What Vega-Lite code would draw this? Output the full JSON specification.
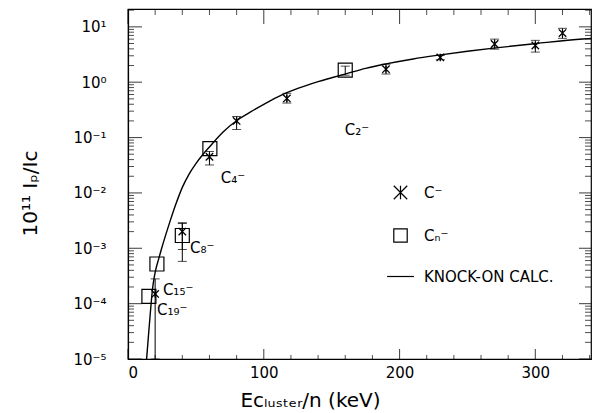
{
  "$schema": "https://vega.github.io/schema/vega-lite/v6.json",
  "autosize": {"type": "none"},
  "width": 463,
  "height": 350,
  "padding": {"left": 128, "top": 9, "right": 4, "bottom": 54},
  "background": "white",
  "config": {
    "view": {"stroke": "black", "strokeWidth": 1.2},
    "font": "DejaVu Sans",
    "axis": {"grid": false, "ticks": false, "domainColor": "black", "labelColor": "black", "titleColor": "black", "labelFont": "DejaVu Sans", "titleFont": "DejaVu Sans", "titleFontWeight": "normal", "domainWidth": 1.2}
  },
  "datasets": {
    "curve": [
      {"e": 13.7, "v": 0.00001}, {"e": 15, "v": 0.0000251}, {"e": 16.5, "v": 0.0000708},
      {"e": 18, "v": 0.000178}, {"e": 19.5, "v": 0.000316}, {"e": 21, "v": 0.000468},
      {"e": 22.5, "v": 0.000631}, {"e": 24.8, "v": 0.001}, {"e": 28, "v": 0.00182},
      {"e": 31, "v": 0.00309}, {"e": 35, "v": 0.00603}, {"e": 40, "v": 0.0126},
      {"e": 45, "v": 0.0219}, {"e": 50, "v": 0.0339}, {"e": 55, "v": 0.049},
      {"e": 60, "v": 0.0676}, {"e": 70, "v": 0.126}, {"e": 82, "v": 0.219},
      {"e": 90, "v": 0.288}, {"e": 100, "v": 0.398}, {"e": 110, "v": 0.537},
      {"e": 117, "v": 0.646}, {"e": 130, "v": 0.851}, {"e": 140, "v": 1.023},
      {"e": 150, "v": 1.202}, {"e": 161, "v": 1.429}, {"e": 175, "v": 1.778},
      {"e": 190, "v": 2.138}, {"e": 210, "v": 2.63}, {"e": 229, "v": 3.09},
      {"e": 250, "v": 3.63}, {"e": 271, "v": 4.17}, {"e": 301, "v": 5.01},
      {"e": 335, "v": 6.03}, {"e": 341, "v": 6.17}
    ],
    "pts": [
      {"s": "C⁻", "e": 20, "v": 0.00015},
      {"s": "C⁻", "e": 40, "v": 0.002},
      {"s": "C⁻", "e": 60, "v": 0.045},
      {"s": "C⁻", "e": 80, "v": 0.2},
      {"s": "C⁻", "e": 117, "v": 0.51},
      {"s": "C⁻", "e": 190, "v": 1.72},
      {"s": "C⁻", "e": 230, "v": 2.8},
      {"s": "C⁻", "e": 270, "v": 4.9},
      {"s": "C⁻", "e": 300, "v": 4.6},
      {"s": "C⁻", "e": 320, "v": 7.7}
    ],
    "bars": [
      {"e": 20, "lo": 0.00001, "hi": 0.00028},
      {"e": 40, "lo": 0.00095, "hi": 0.0028},
      {"e": 60, "lo": 0.032, "hi": 0.056},
      {"e": 80, "lo": 0.14, "hi": 0.24},
      {"e": 117, "lo": 0.42, "hi": 0.63},
      {"e": 190, "lo": 1.4, "hi": 2.1},
      {"e": 230, "lo": 2.55, "hi": 3.05},
      {"e": 270, "lo": 3.95, "hi": 6.0},
      {"e": 300, "lo": 3.5, "hi": 5.7},
      {"e": 320, "lo": 6.2, "hi": 9.4},
      {"e": 40, "lo": 0.00058, "hi": 0.0029},
      {"e": 160, "lo": 1.34, "hi": 1.95}
    ],
    "boxes": [
      {"s": "Cₙ⁻", "e": 15.4, "v": 0.000135},
      {"s": "Cₙ⁻", "e": 21.3, "v": 0.00052},
      {"s": "Cₙ⁻", "e": 40, "v": 0.0017},
      {"s": "Cₙ⁻", "e": 60.3, "v": 0.063},
      {"s": "Cₙ⁻", "e": 160, "v": 1.65}
    ],
    "notes": [
      {"t": "C₄⁻", "e": 68.4, "v": 0.0184},
      {"t": "C₂⁻", "e": 159.6, "v": 0.135},
      {"t": "C₈⁻", "e": 45.6, "v": 0.001},
      {"t": "C₁₅⁻", "e": 25.7, "v": 0.000174},
      {"t": "C₁₉⁻", "e": 21.3, "v": 0.000076}
    ],
    "xmajor": [{"e": 0}, {"e": 100}, {"e": 200}, {"e": 300}],
    "xminor": [{"e": 20}, {"e": 40}, {"e": 60}, {"e": 80}, {"e": 120}, {"e": 140}, {"e": 160}, {"e": 180}, {"e": 220}, {"e": 240}, {"e": 260}, {"e": 280}, {"e": 320}, {"e": 340}],
    "ymajor": [{"v": 0.00001}, {"v": 0.0001}, {"v": 0.001}, {"v": 0.01}, {"v": 0.1}, {"v": 1}, {"v": 10}],
    "yminor": [
      {"v": 0.00002}, {"v": 0.00003}, {"v": 0.00004}, {"v": 0.00005}, {"v": 0.00006}, {"v": 0.00007}, {"v": 0.00008}, {"v": 0.00009},
      {"v": 0.0002}, {"v": 0.0003}, {"v": 0.0004}, {"v": 0.0005}, {"v": 0.0006}, {"v": 0.0007}, {"v": 0.0008}, {"v": 0.0009},
      {"v": 0.002}, {"v": 0.003}, {"v": 0.004}, {"v": 0.005}, {"v": 0.006}, {"v": 0.007}, {"v": 0.008}, {"v": 0.009},
      {"v": 0.02}, {"v": 0.03}, {"v": 0.04}, {"v": 0.05}, {"v": 0.06}, {"v": 0.07}, {"v": 0.08}, {"v": 0.09},
      {"v": 0.2}, {"v": 0.3}, {"v": 0.4}, {"v": 0.5}, {"v": 0.6}, {"v": 0.7}, {"v": 0.8}, {"v": 0.9},
      {"v": 2}, {"v": 3}, {"v": 4}, {"v": 5}, {"v": 6}, {"v": 7}, {"v": 8}, {"v": 9}, {"v": 20}
    ],
    "anchor": [{"e": 0, "v": 1}]
  },
  "layer": [
    {
      "data": {"name": "curve"},
      "mark": {"type": "line", "color": "black", "strokeWidth": 1.4, "interpolate": "monotone", "clip": true},
      "encoding": {
        "x": {"field": "e", "type": "quantitative", "scale": {"domain": [0, 341], "nice": false, "zero": false}, "axis": null},
        "y": {"field": "v", "type": "quantitative", "scale": {"type": "log", "domain": [0.00001, 21], "nice": false}, "axis": null}
      }
    },
    {
      "data": {"name": "bars"},
      "mark": {"type": "rule", "color": "black", "strokeWidth": 1, "clip": true},
      "encoding": {
        "x": {"field": "e", "type": "quantitative", "axis": null},
        "y": {"field": "lo", "type": "quantitative", "axis": null},
        "y2": {"field": "hi"}
      }
    },
    {
      "data": {"name": "bars"},
      "mark": {"type": "tick", "orient": "horizontal", "color": "black", "size": 9, "thickness": 1, "clip": true},
      "encoding": {
        "x": {"field": "e", "type": "quantitative", "axis": null},
        "y": {"field": "hi", "type": "quantitative", "axis": null}
      }
    },
    {
      "data": {"name": "bars"},
      "mark": {"type": "tick", "orient": "horizontal", "color": "black", "size": 9, "thickness": 1, "clip": true},
      "encoding": {
        "x": {"field": "e", "type": "quantitative", "axis": null},
        "y": {"field": "lo", "type": "quantitative", "axis": null}
      }
    },
    {
      "data": {"name": "pts"},
      "mark": {"type": "point", "filled": false, "stroke": "black", "strokeWidth": 1.3, "size": 55, "opacity": 1},
      "encoding": {
        "x": {"field": "e", "type": "quantitative", "axis": null},
        "y": {"field": "v", "type": "quantitative", "axis": null},
        "shape": {"field": "s", "type": "nominal",
          "scale": {"domain": ["C⁻", "Cₙ⁻", "KNOCK-ON CALC."], "range": ["M-1,-1L1,1M1,-1L-1,1M0,-1L0,1", "square", "M-2,0L2,0"]},
          "legend": {
            "orient": "none", "legendX": 265, "legendY": 176, "title": null,
            "symbolSize": 180, "symbolStrokeColor": "black", "symbolFillColor": "transparent", "symbolStrokeWidth": 1.2,
            "labelFontSize": 15, "labelColor": "black", "labelFont": "DejaVu Sans", "labelOffset": 16, "rowPadding": 24
          }
        }
      }
    },
    {
      "data": {"name": "boxes"},
      "mark": {"type": "point", "filled": false, "stroke": "black", "strokeWidth": 1.2, "size": 196, "opacity": 1},
      "encoding": {
        "x": {"field": "e", "type": "quantitative", "axis": null},
        "y": {"field": "v", "type": "quantitative", "axis": null},
        "shape": {"field": "s", "type": "nominal"}
      }
    },
    {
      "data": {"name": "notes"},
      "mark": {"type": "text", "align": "left", "baseline": "middle", "fontSize": 15, "font": "DejaVu Sans", "color": "black"},
      "encoding": {
        "x": {"field": "e", "type": "quantitative", "axis": null},
        "y": {"field": "v", "type": "quantitative", "axis": null},
        "text": {"field": "t"}
      }
    },
    {
      "data": {"name": "xmajor"},
      "mark": {"type": "tick", "orient": "vertical", "color": "black", "size": 10, "thickness": 1.1, "yOffset": -5},
      "encoding": {"x": {"field": "e", "type": "quantitative", "axis": null}, "y": {"datum": 0.00001, "type": "quantitative", "axis": null}}
    },
    {
      "data": {"name": "xminor"},
      "mark": {"type": "tick", "orient": "vertical", "color": "black", "size": 4, "thickness": 1, "yOffset": -2},
      "encoding": {"x": {"field": "e", "type": "quantitative", "axis": null}, "y": {"datum": 0.00001, "type": "quantitative", "axis": null}}
    },
    {
      "data": {"name": "xmajor"},
      "mark": {"type": "tick", "orient": "vertical", "color": "black", "size": 15, "thickness": 1.1, "yOffset": 7.5},
      "encoding": {"x": {"field": "e", "type": "quantitative", "axis": null}, "y": {"datum": 21, "type": "quantitative", "axis": null}}
    },
    {
      "data": {"name": "xminor"},
      "mark": {"type": "tick", "orient": "vertical", "color": "black", "size": 6, "thickness": 1, "yOffset": 3},
      "encoding": {"x": {"field": "e", "type": "quantitative", "axis": null}, "y": {"datum": 21, "type": "quantitative", "axis": null}}
    },
    {
      "data": {"name": "ymajor"},
      "mark": {"type": "tick", "orient": "horizontal", "color": "black", "size": 14, "thickness": 1.1, "xOffset": 7},
      "encoding": {"y": {"field": "v", "type": "quantitative", "axis": null}, "x": {"datum": 0, "type": "quantitative", "axis": null}}
    },
    {
      "data": {"name": "yminor"},
      "mark": {"type": "tick", "orient": "horizontal", "color": "black", "size": 6, "thickness": 1, "xOffset": 3},
      "encoding": {"y": {"field": "v", "type": "quantitative", "axis": null}, "x": {"datum": 0, "type": "quantitative", "axis": null}}
    },
    {
      "data": {"name": "ymajor"},
      "mark": {"type": "tick", "orient": "horizontal", "color": "black", "size": 12, "thickness": 1.1, "xOffset": -6},
      "encoding": {"y": {"field": "v", "type": "quantitative", "axis": null}, "x": {"datum": 341, "type": "quantitative", "axis": null}}
    },
    {
      "data": {"name": "yminor"},
      "mark": {"type": "tick", "orient": "horizontal", "color": "black", "size": 6, "thickness": 1, "xOffset": -3},
      "encoding": {"y": {"field": "v", "type": "quantitative", "axis": null}, "x": {"datum": 341, "type": "quantitative", "axis": null}}
    },
    {
      "data": {"name": "anchor"},
      "mark": {"type": "point", "opacity": 0},
      "encoding": {
        "x": {"field": "e", "type": "quantitative",
          "axis": {
            "orient": "bottom", "ticks": false,
            "values": [0, 100, 200, 300],
            "labelFontSize": 15,
            "labelPadding": 6,
            "title": "Eᴄₗᵤₛₜₑᵣ/n   (keV)",
            "titleFontSize": 20,
            "titleX": 182,
            "titleY": 41,
            "titleAlign": "center",
            "titleBaseline": "middle"
          }
        },
        "y": {"field": "v", "type": "quantitative",
          "axis": {
            "orient": "left", "ticks": false,
            "values": [0.00001, 0.0001, 0.001, 0.01, 0.1, 1, 10],
            "labelExpr": "round(log(datum.value)/LN10) == 1 ? '10¹' : round(log(datum.value)/LN10) == 0 ? '10⁰' : round(log(datum.value)/LN10) == -1 ? '10⁻¹' : round(log(datum.value)/LN10) == -2 ? '10⁻²' : round(log(datum.value)/LN10) == -3 ? '10⁻³' : round(log(datum.value)/LN10) == -4 ? '10⁻⁴' : '10⁻⁵'",
            "labelFontSize": 15,
            "labelPadding": 22,
            "title": "10¹¹ Iₚ/Iᴄ",
            "titleFontSize": 20,
            "titleAngle": -90,
            "titleX": -98,
            "titleY": 184,
            "titleAlign": "center",
            "titleBaseline": "middle"
          }
        }
      }
    }
  ],
  "resolve": {"axis": {"x": "independent", "y": "independent"}}
}
